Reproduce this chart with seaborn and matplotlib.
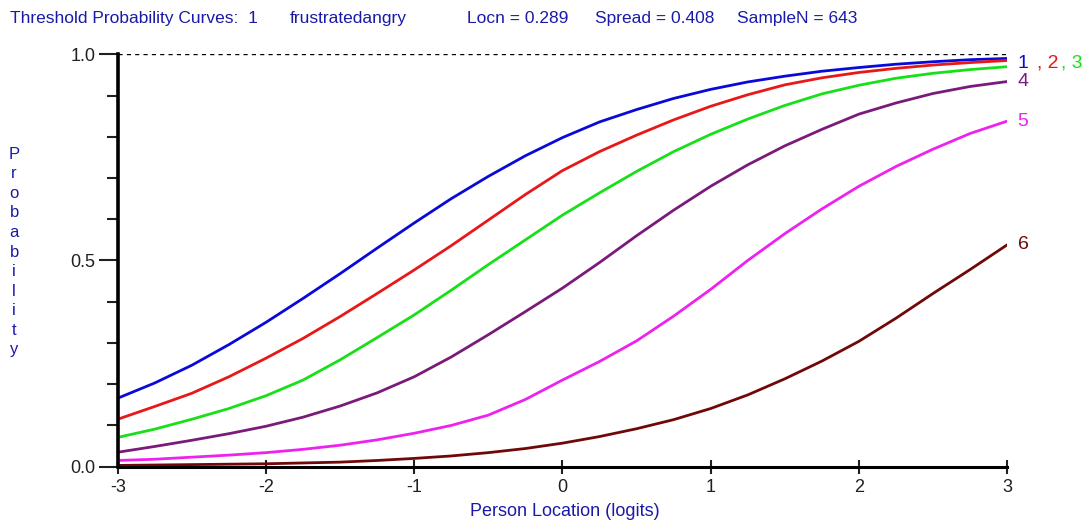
import numpy as np
import pandas as pd
import seaborn as sns
import matplotlib.pyplot as plt

location = [-3.0, -2.75, -2.5, -2.25, -2.0, -1.75, -1.5, -1.25, -1.0, -0.75, -0.5, -0.25,
            0.0, 0.25, 0.5, 0.75, 1.0, 1.25, 1.5, 1.75, 2.0, 2.25, 2.5, 2.75, 3.0]

thr1 = [0.166, 0.203, 0.246, 0.296, 0.350, 0.408, 0.468, 0.530, 0.591, 0.650, 0.704, 0.754,
        0.798, 0.836, 0.866, 0.893, 0.915, 0.933, 0.947, 0.959, 0.968, 0.976, 0.982, 0.987, 0.990]
thr2 = [0.115, 0.146, 0.178, 0.218, 0.263, 0.311, 0.364, 0.420, 0.477, 0.536, 0.598, 0.660,
        0.718, 0.764, 0.804, 0.841, 0.874, 0.902, 0.926, 0.943, 0.956, 0.966, 0.974, 0.980, 0.985]
thr3 = [0.071, 0.091, 0.115, 0.141, 0.172, 0.210, 0.259, 0.313, 0.368, 0.428, 0.490, 0.550,
        0.610, 0.664, 0.716, 0.764, 0.806, 0.843, 0.876, 0.904, 0.925, 0.942, 0.954, 0.963, 0.970]
thr4 = [0.035, 0.049, 0.064, 0.080, 0.098, 0.120, 0.147, 0.179, 0.218, 0.266, 0.320, 0.376,
        0.433, 0.495, 0.560, 0.622, 0.680, 0.732, 0.778, 0.818, 0.855, 0.882, 0.905, 0.922, 0.934]
thr5 = [0.015, 0.018, 0.023, 0.028, 0.034, 0.042, 0.052, 0.065, 0.081, 0.100, 0.125, 0.163,
        0.210, 0.255, 0.305, 0.365, 0.430, 0.500, 0.565, 0.625, 0.680, 0.728, 0.770, 0.808, 0.838]
thr6 = [0.003, 0.004, 0.005, 0.006, 0.007, 0.009, 0.011, 0.015, 0.020, 0.026, 0.034, 0.044,
        0.057, 0.073, 0.092, 0.114, 0.141, 0.174, 0.213, 0.256, 0.304, 0.360, 0.420, 0.478, 0.538]

thresholds = ['1', '2', '3', '4', '5', '6']
colors = ['#0a0ad8', '#e81818', '#18e018', '#7a1a7a', '#ee22ee', '#700808']

df = pd.DataFrame({'location': location * 6,
                   'prob': thr1 + thr2 + thr3 + thr4 + thr5 + thr6,
                   'threshold': [t for t in thresholds for _ in location]})

sns.set_style("white")
plt.rcParams['font.family'] = ['Liberation Sans', 'DejaVu Sans']

fig = plt.figure(figsize=(10.9, 5.3), dpi=100)
ax = fig.add_axes([0.108, 0.1195, 0.816, 0.778])

sns.lineplot(data=df, x='location', y='prob', hue='threshold',
             palette=dict(zip(thresholds, colors)), linewidth=2.0, legend=False, ax=ax)

ax.axhline(1.0, color='black', lw=1, ls=(0, (3, 3)))

ax.set_xlim(-3, 3)
ax.set_ylim(0, 1)
ax.set_xticks([-3, -2, -1, 0, 1, 2, 3])
ax.set_xticklabels(['-3', '-2', '-1', '0', '1', '2', '3'])
ax.set_yticks([0, 0.5, 1.0])
ax.set_yticklabels(['0.0', '0.5', '1.0'])
ax.set_yticks(np.arange(0, 1.01, 0.1), minor=True)
ax.tick_params(which='both', left=True, bottom=True)
ax.tick_params(axis='y', which='major', direction='out', length=14, width=1.5,
               labelsize=13, colors='#202020', pad=2)
ax.tick_params(axis='y', which='minor', direction='out', length=8, width=1.5, color='#202020')
ax.tick_params(axis='x', which='major', direction='inout', length=10, width=1.5,
               labelsize=13, colors='#202020', pad=4)
ax.set_xlabel('')
ax.set_ylabel('')

for s in ['top', 'right']:
    ax.spines[s].set_visible(False)
ax.spines['left'].set_linewidth(2.6)
ax.spines['bottom'].set_linewidth(2.2)
ax.spines['left'].set_color('black')
ax.spines['bottom'].set_color('black')

# curve numbers at the right end
y_top = thr1[-1] - 0.012
for lab, col, yv in zip(['1', '4', '5', '6'], [colors[0], colors[3], colors[4], colors[5]],
                        [y_top, thr4[-1], thr5[-1], thr6[-1]]):
    ax.text(3.07, yv, lab, color=col, fontsize=14, ha='left', va='center', clip_on=False)
ax.text(3.20, y_top, ', 2', color=colors[1], fontsize=14, ha='left', va='center', clip_on=False)
ax.text(3.36, y_top, ', 3', color=colors[2], fontsize=14, ha='left', va='center', clip_on=False)

blue = '#1a1aa8'
title_parts = [(0.009, 'Threshold Probability Curves:  1'), (0.266, 'frustratedangry'),
               (0.428, 'Locn = 0.289'), (0.546, 'Spread = 0.408'), (0.676, 'SampleN = 643')]
for xp, txt in title_parts:
    fig.text(xp, 0.966, txt, color=blue, fontsize=12.5, ha='left', va='center')

fig.text(0.013, 0.5245, '\n'.join('Probability'), color=blue, fontsize=12,
         ha='center', va='center', multialignment='center', linespacing=1.38)
fig.text(0.518, 0.034, 'Person Location (logits)', color=blue, fontsize=13,
         ha='center', va='center')

plt.savefig('out.png', dpi=100)
